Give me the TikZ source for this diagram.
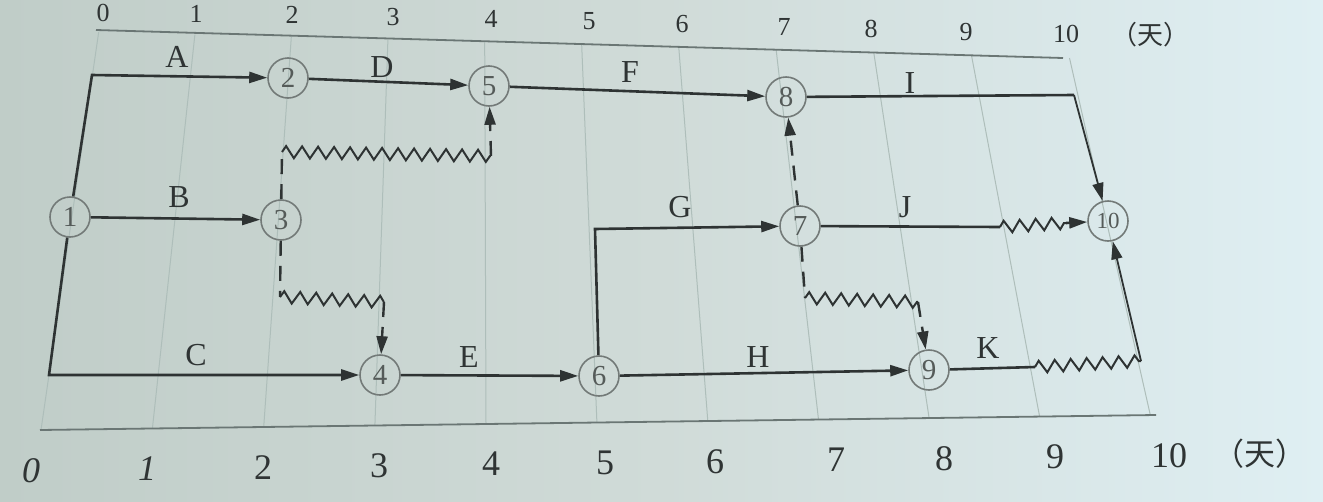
\documentclass[tikz,border=0pt]{standalone}
\usepackage{fontspec}
\setmainfont{Liberation Serif}
\newfontfamily\cjk{Noto Sans CJK SC}
\usetikzlibrary{arrows.meta,decorations.pathmorphing}
\definecolor{linecol}{HTML}{2E3333}
\definecolor{evcol}{HTML}{737A78}
\definecolor{numcol}{HTML}{555B59}
\definecolor{labcol}{HTML}{2F3434}
\definecolor{gridcol}{HTML}{AEBEBA}
\definecolor{rulecol}{HTML}{6A7674}
\definecolor{bgL}{HTML}{C0CDC8}
\definecolor{bgM}{HTML}{D0DBD8}
\definecolor{bgR}{HTML}{DFEFF3}
\begin{document}
\begin{tikzpicture}[x=1pt,y=-1pt,
  ev/.style={circle,draw=evcol,line width=1.6pt,minimum size=40pt,inner sep=0pt,text=numcol,font=\fontsize{29}{29}\selectfont},
  evs/.style={ev,font=\fontsize{23}{23}\selectfont},
  act/.style={draw=linecol,line width=2.6pt,-{Triangle[length=18pt,width=11pt]}},
  actthin/.style={act,line width=1.8pt},
  seg/.style={draw=linecol,line width=2.6pt},
  dum/.style={draw=linecol,line width=2.4pt,dash pattern=on 15pt off 10pt},
  dumarr/.style={dum,-{Triangle[length=18pt,width=11pt]}},
  wav/.style={draw=linecol,line width=2pt,decorate,decoration={zigzag,amplitude=6pt,segment length=16pt}},
  lab/.style={text=labcol,font=\fontsize{32}{32}\selectfont,inner sep=0pt},
  topax/.style={text=labcol,font=\fontsize{26}{26}\selectfont,inner sep=0pt,anchor=base},
  botax/.style={text=labcol,font=\fontsize{36}{36}\selectfont,inner sep=0pt,anchor=base},
  gridl/.style={draw=gridcol,line width=1pt},
  axrule/.style={draw=rulecol,line width=1.8pt}
]
\useasboundingbox (0,0) rectangle (1323,501);
\shade[left color=bgL,right color=bgR,middle color=bgM] (0,0) rectangle (1323,501);

% faint grid lines
\foreach \xt/\yt/\xb/\yb in {98.7/32/41/430, 194.9/34.6/152.4/428.5, 291.3/37.2/263.7/427,
  387.9/39.8/374.9/425.5, 484.7/42.4/486/424, 581.7/45/596.9/422.5, 678.8/47.6/707.8/421,
  776.2/50.2/818.5/419.5, 873.8/52.8/929.1/418, 971.5/55.4/1039.6/416.5, 1069.5/58/1150.3/415}
  \draw[gridl] (\xt,\yt) -- (\xb,\yb);

% axis rules
\draw[axrule] (96,30) -- (1063,58);
\draw[axrule] (40,430) -- (1156,415);

% top axis labels
\node[topax] (t0) at (103,21) {0};
\node[topax] (t1) at (196,22) {1};
\node[topax] (t2) at (292,23) {2};
\node[topax] (t3) at (393,25) {3};
\node[topax] (t4) at (491,27) {4};
\node[topax] (t5) at (589,29.6) {5};
\node[topax] (t6) at (682,32.3) {6};
\node[topax] (t7) at (784,35) {7};
\node[topax] (t8) at (871,37.5) {8};
\node[topax] (t9) at (966,40.2) {9};
\node[topax] (t10) at (1066,42.9) {10};
\node[topax] (tu) at (1150,44) {\cjk （天）};

% bottom axis labels
\node[botax] (b0) at (31,482) {\textit{0}};
\node[botax] (b1) at (147,480.5) {\textit{1}};
\node[botax] (b2) at (263,479) {2};
\node[botax] (b3) at (379,477.4) {3};
\node[botax] (b4) at (491,475.9) {4};
\node[botax] (b5) at (605,474.4) {5};
\node[botax] (b6) at (715,473) {6};
\node[botax] (b7) at (836,471.4) {7};
\node[botax] (b8) at (944,470) {8};
\node[botax] (b9) at (1055,468.5) {9};
\node[botax] (b10) at (1169,467) {10};
\node[botax,font=\fontsize{31}{31}\selectfont] (bu) at (1260,465) {\cjk （天）};

% events
\node[ev] (n1) at (70,217) {1};
\node[ev] (n2) at (288,78) {2};
\node[ev] (n3) at (281,220) {3};
\node[ev] (n5) at (489,86) {5};
\node[ev] (n8) at (786,97) {8};
\node[ev] (n7) at (800,226) {7};
\node[evs] (n10) at (1108,221) {10};
\node[ev] (n4) at (380,375) {4};
\node[ev] (n6) at (599,376) {6};
\node[ev] (n9) at (929,370) {9};

% helper points
\coordinate (cA) at (92,75);
\coordinate (cC) at (49,375);
\coordinate (cI) at (1074,95);
\coordinate (cG) at (595,229);
\coordinate (d35a) at (282,152);
\coordinate (d35b) at (491,156);
\coordinate (d34a) at (280,297);
\coordinate (d34b) at (384,302);
\coordinate (d79a) at (805,298);
\coordinate (d79b) at (918,302);
\coordinate (jw1) at (1000,227);
\coordinate (jw2) at (1066,223);
\coordinate (kw1) at (1035,367);
\coordinate (kw2) at (1141,361);

% activities
\draw[act] (n1) -- (cA) -- (n2);
\draw[act] (n2) -- (n5);
\draw[act] (n5) -- (n8);
\draw[seg] (n8) -- (cI);
\draw[actthin] (cI) -- (n10);
\draw[act] (n1) -- (n3);
\draw[act] (n1) -- (cC) -- (n4);
\draw[act] (n4) -- (n6);
\draw[act] (n6) -- (cG) -- (n7);
\draw[act] (n6) -- (n9);
\draw[seg] (n7) -- (jw1);
\draw[wav] (jw1) -- (jw2);
\draw[act] (jw2) -- (n10);
\draw[seg] (n9) -- (kw1);
\draw[wav] (kw1) -- (kw2);
\draw[actthin] (kw2) -- (n10);

% dummies
\draw[dumarr] (n7) -- (n8);
\draw[dum] (n3) -- (d35a);
\draw[wav] (d35a) -- (d35b);
\draw[dumarr] (d35b) -- (n5);
\draw[dum] (n3) -- (d34a);
\draw[wav] (d34a) -- (d34b);
\draw[dumarr] (d34b) -- (n4);
\draw[dum] (n7) -- (d79a);
\draw[wav] (d79a) -- (d79b);
\draw[dumarr] (d79b) -- (n9);

% activity labels
\node[lab] (lA) at (177,57) {A};
\node[lab] (lD) at (382,67) {D};
\node[lab] (lF) at (630,72) {F};
\node[lab] (lI) at (910,83) {I};
\node[lab] (lB) at (179,197) {B};
\node[lab] (lG) at (680,207) {G};
\node[lab] (lJ) at (905,207) {J};
\node[lab] (lC) at (196,355) {C};
\node[lab] (lE) at (469,357) {E};
\node[lab] (lH) at (758,357) {H};
\node[lab] (lK) at (988,348) {K};
\end{tikzpicture}
\end{document}
